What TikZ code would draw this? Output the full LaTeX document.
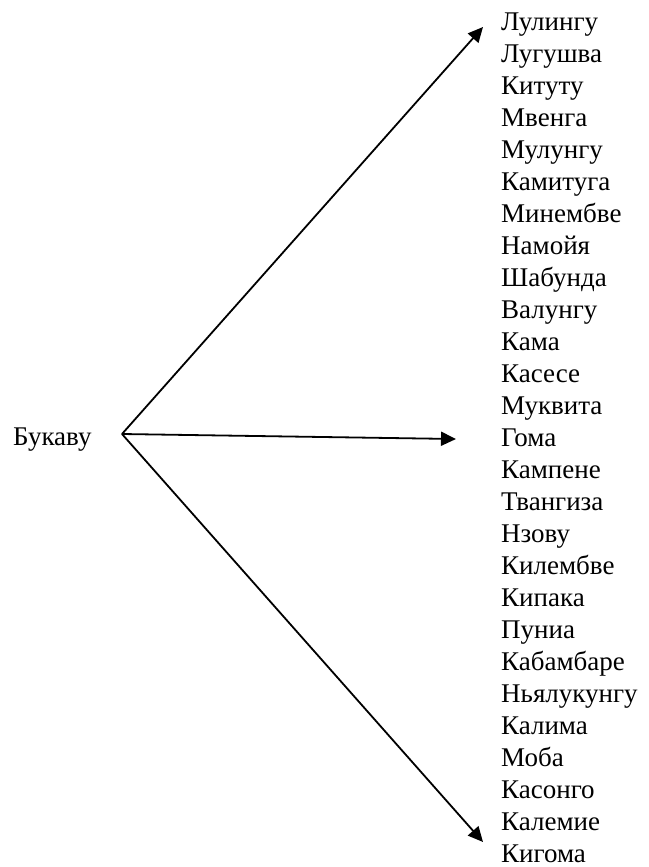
\documentclass[tikz,border=0pt]{standalone}
\usepackage{fontspec}
\setmainfont{Liberation Serif}
\usetikzlibrary{arrows.meta}
\begin{document}
\begin{tikzpicture}[x=1pt,y=-1pt,
  place/.style={anchor=base west,inner sep=0pt,font=\fontsize{27}{32}\selectfont},
  link/.style={line width=1.8pt,-{Triangle[length=15pt,width=14pt]}}]
\useasboundingbox (0,0) rectangle (648,867);
% source town and the point the arrows fan out from
\node[place] (src) at (13,445) {Букаву};
\coordinate (hub) at (122,434);
% destination towns, one per line
\foreach \name [count=\i from 0] in {Лулингу,Лугушва,Китуту,Мвенга,Мулунгу,Камитуга,Минембве,Намойя,Шабунда,Валунгу,Кама,Касесе,Муквита,Гома,Кампене,Твангиза,Нзову,Килембве,Кипака,Пуниа,Кабамбаре,Ньялукунгу,Калима,Моба,Касонго,Калемие,Кигома}
  \node[place] (t\i) at (501,30.5+32*\i) {\name};
% arrow ends just left of the first, middle and last towns
% (xshift/yshift act on the page, where up is positive)
\coordinate (top) at ([xshift=-18pt,yshift=3.5pt]t0.base west);
\coordinate (mid) at ([xshift=-45pt,yshift=7.5pt]t13.base west);
\coordinate (bot) at ([xshift=-18pt,yshift=20.5pt]t26.base west);
\draw[link] (hub) -- (top);
\draw[link] (hub) -- (mid);
\draw[link] (hub) -- (bot);
\end{tikzpicture}
\end{document}
